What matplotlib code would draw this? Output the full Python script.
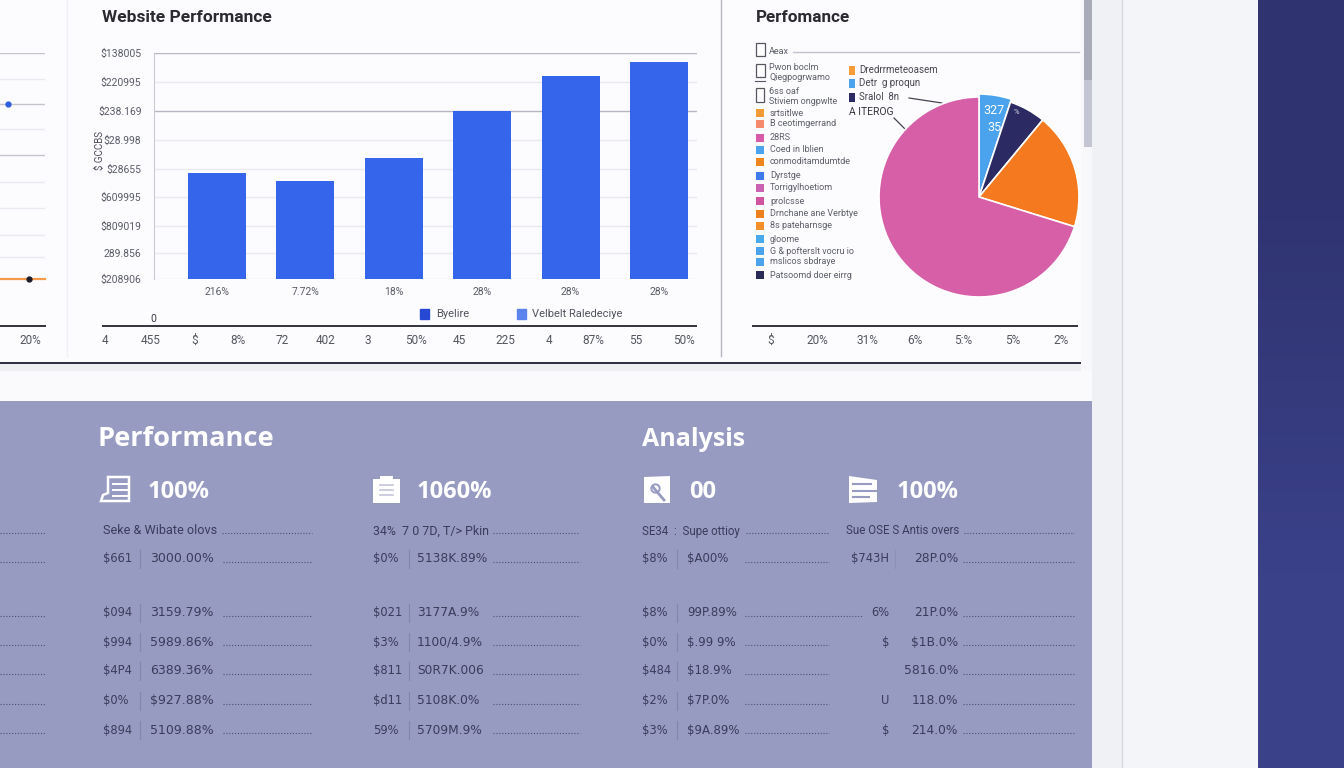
import matplotlib
matplotlib.use("Agg")
import matplotlib.pyplot as plt
from matplotlib.patches import Rectangle, Polygon, Patch

plt.rcParams['font.family'] = ['Roboto', 'DejaVu Sans']

# bar chart
bar_labels = ['216%', '7.72%', '18%', '28%', '28%', '28%']
bar_values = [3.75, 3.47, 4.28, 5.95, 7.19, 7.68]
y_tick_labels = ['$208906', '289.856', '$809019', '$609995', '$28655', '$28.998', '$238.169', '$220995', '$138005']
y_ticks = [0, 0.92, 1.88, 2.90, 3.89, 4.92, 5.95, 6.97, 8]
legend_names = ['Byelire', 'Velbelt Raledeciye']
legend_colors = ['#2748d4', '#5b83ee']
bottom_labels = ['4', '455', '$', '8%', '72', '402', '3', '50%', '45', '225', '4', '87%', '55', '50%']

# cut off line chart on the left
left_grid = [0.78, 1.56, 2.51, 3.43, 4.39, 5.31, 6.19, 7.08, 8]
left_blue_x = [8]
left_blue_y = [6.19]
left_orange_x = [0, 29, 45]
left_orange_y = [0, 0, 0]

# pie chart
pie_values = [5.1, 5.9, 18.8, 70.2]
pie_colors = ['#4aa3ec', '#2c2a63', '#f57a1f', '#d65fa8']
pie_text = '327\n35'
pie_bottom = ['$', '20%', '31%', '6%', '5:%', '5%', '2%']
list_boxed = ['Aeax', 'Pwon boclm', 'Qiegpogrwamo', '6ss oaf', 'Stiviem ongpwlte']
list_names = ['srtsitlwe', 'B ceotimgerrand', '28RS', 'Coed in Iblien', 'conmoditamdumtde', 'Dyrstge',
              'Torrigylhoetiom', 'prolcsse', 'Drnchane ane Verbtye', '8s pateharnsge', 'gloome',
              'G & pofterslt vocru io', 'mslicos sbdraye', 'Patsoomd doer eirrg']
list_colors = ['#f79a38', '#f58a70', '#d55ba8', '#4aa3ec', '#f0861c', '#3b7bea', '#cc62b4', '#d2559f',
               '#f0801c', '#f58f2e', '#4aa8ee', '#4aa3ec', '#4aa3ec', '#2a2a58']
side_names = ['Dredrrmeteoasem', 'Detr  g proqun', 'Sralol  8n']
side_colors = ['#f79a38', '#4aa3ec', '#2c2a63']

# table panel
col1_head = 'Seke & Wibate olovs'
col2_head = '34%  7 0 7D, T/> Pkin'
col3_head = 'SE34  :  Supe ottioy'
col4_head = 'Sue OSE S Antis overs'
col1_a = ['$661', '$094', '$994', '$4P4', '$0%', '$894']
col1_b = ['3000.00%', '3159.79%', '5989.86%', '6389.36%', '$927.88%', '5109.88%']
col2_a = ['$0%', '$021', '$3%', '$811', '$d11', '59%']
col2_b = ['5138K.89%', '3177A.9%', '1100/4.9%', 'S0R7K.006', '5108K.0%', '5709M.9%']
col3_a = ['$8%', '$8%', '$0%', '$484', '$2%', '$3%']
col3_b = ['$A00%', '99P.89%', '$.99 9%', '$18.9%', '$7P.0%', '$9A.89%']
col4_a = ['$743H', '6%', '$', '', 'U', '$']
col4_b = ['28P.0%', '21P.0%', '$1B.0%', '5816.0%', '118.0%', '214.0%']

fig = plt.figure(figsize=(13.44, 7.68), dpi=100, facecolor='#fbfbfe')


def px_axes(x0, y0, x1, y1):
    return fig.add_axes([x0 / 1344, 1 - y1 / 768, (x1 - x0) / 1344, (y1 - y0) / 768])


bg = fig.add_axes([0, 0, 1, 1], zorder=0)
bg.set_xlim(0, 1344)
bg.set_ylim(768, 0)
bg.axis('off')

# page chrome
bg.add_patch(Rectangle((1092, 0), 30, 768, color='#f0f1f5', lw=0))
bg.add_patch(Rectangle((1122, 0), 136, 768, color='#f3f5f8', lw=0))
bg.plot([1122, 1122], [0, 768], color='#d6d8e2', lw=1)
bg.imshow([[0], [1]], extent=(1258, 1344, 768, 0), aspect='auto', cmap=matplotlib.colors.LinearSegmentedColormap.from_list('n', ['#2f3370', '#3b4189']),
          interpolation='bilinear')
bg.set_xlim(0, 1344)
bg.set_ylim(768, 0)
bg.add_patch(Rectangle((0, 0), 1081, 362, color='#fcfcff', lw=0))
bg.add_patch(Rectangle((1081, 0), 11, 401, color='#f8f8fb', lw=0))
bg.add_patch(Rectangle((0, 364), 1081, 7, color='#eeeef3', lw=0))
bg.add_patch(Rectangle((0, 371), 1092, 30, color='#fafafc', lw=0))
bg.plot([0, 1081], [363, 363], color='#2c2c40', lw=1.4, solid_capstyle='butt')
bg.add_patch(Rectangle((1084, 0), 8, 80, color='#a9abb9', lw=0))
bg.add_patch(Rectangle((1084, 80), 8, 67, color='#c3c5d2', lw=0))
bg.plot([67, 67], [0, 356], color='#f0f0f5', lw=1)
bg.plot([721, 721], [0, 356], color='#b5b6c0', lw=1)
bg.add_patch(Rectangle((0, 401), 1092, 367, color='#979bc1', lw=0))

# left cut off chart
left = px_axes(0, 53, 45, 279)
left.patch.set_alpha(0)
left.set_xlim(0, 45)
left.set_ylim(0, 8)
for i, v in enumerate(left_grid):
    dark = i in [4, 6, 8]
    left.axhline(v, color='#c4c5cc' if dark else '#e9eaf0', lw=1)
left.plot(left_orange_x, left_orange_y, color='#f59a4a', lw=1.6, clip_on=False)
left.plot([29], [0], 'o', color='#1c1c28', ms=3.5, clip_on=False)
left.plot(left_blue_x, left_blue_y, 'o', color='#2f5fe0', ms=3.5, clip_on=False)
left.axis('off')

# bar chart
ax = px_axes(154, 53, 697, 279)
ax.patch.set_alpha(0)
xpos = list(range(len(bar_values)))
ax.bar(xpos, bar_values, width=0.656, color='#3565ea', zorder=3)
ax.set_xlim(-0.713, 5.43)
ax.set_ylim(0, 8)
ax.set_yticks(y_ticks)
ax.set_yticklabels(y_tick_labels, fontsize=7.5, color='#5a5c68')
ax.set_xticks(xpos)
ax.set_xticklabels(bar_labels, fontsize=7.5, color='#5a5c68')
ax.tick_params(length=0, pad=9)
ax.tick_params(axis='x', pad=6)
ax.grid(axis='y', color='#e9eaf0', lw=1, zorder=0)
ax.get_ygridlines()[6].set_color('#b6b7c0')
ax.get_ygridlines()[8].set_color('#b6b7c0')
for s in ['top', 'right', 'bottom']:
    ax.spines[s].set_visible(False)
ax.spines['left'].set_color('#c9cad2')
ax.set_ylabel('$ GCCBS', fontsize=7, color='#4a4b58')
ax.yaxis.set_label_coords(-0.09, 0.57)
handles = [Patch(color=c) for c in legend_colors]
ax.legend(handles, legend_names, ncols=2, frameon=False, fontsize=8, labelcolor='#50525e',
          loc='center left', bbox_to_anchor=(0.48, -0.155), handlelength=0.8, handleheight=1.0,
          columnspacing=4.3, handletextpad=0.6, borderpad=0)

# pie chart
pie = px_axes(879, 97, 1079, 297)
wedges, _ = pie.pie(pie_values, colors=pie_colors, startangle=90, counterclock=False, radius=1,
                    wedgeprops={'edgecolor': 'white', 'linewidth': 1.2})
pie.set_xlim(-1, 1)
pie.set_ylim(-1, 1)
for w in wedges:
    w.set_clip_on(False)
wedges[0].set_radius(1.03)
pie.text(0.15, 0.78, pie_text, color='white', fontsize=9, ha='center', va='center', linespacing=1.35)
pie.text(0.37, 0.85, '%', color='#d8d8e8', fontsize=5.5, ha='center', va='center')

# titles
bg.text(102, 17, 'Website Performance', fontsize=12.5, fontweight='bold', color='#2a2a30', va='center')
bg.text(756, 17, 'Perfomance', fontsize=12.3, fontweight='bold', color='#2a2a30', va='center', family='Roboto')
bg.text(97, 439, 'Performance', fontsize=19.6, fontweight='bold', color='white', va='center', family='Open Sans')
bg.text(642, 439, 'Analysis', fontsize=18, fontweight='bold', color='white', va='center', family='Open Sans')

# axes rules under the charts and their labels
rule = '#23232c'
for x0, x1 in [(0, 46), (102, 697), (752, 1078)]:
    bg.plot([x0, x1], [326, 326], color=rule, lw=1.3, solid_capstyle='butt')
bg.text(150, 319, '0', fontsize=7.5, color='#3a3a46', ha='left', va='center')
bottom_x = [105, 151, 195, 238, 282, 326, 368, 416, 459, 505, 549, 593, 636, 684]
for x, t in zip(bottom_x, bottom_labels):
    bg.text(x, 340, t, fontsize=8.5, color='#54565f', ha='center', va='center')
bg.text(30, 340, '20%', fontsize=8.5, color='#54565f', ha='center', va='center')
pie_bottom_x = [771, 817, 867, 915, 963, 1013, 1061]
for x, t in zip(pie_bottom_x, pie_bottom):
    bg.text(x, 340, t, fontsize=8.5, color='#54565f', ha='center', va='center')

# pie legend
boxed_y = [51, 68, 78, 91, 101]
for y, t in zip(boxed_y, list_boxed):
    bg.text(769, y, t, fontsize=6.5, color='#5d5f69', va='center')
bg.plot([793, 1079], [52, 52], color='#c2c3cb', lw=1)
bg.add_patch(Rectangle((756, 43), 9, 13, fc='white', ec='#55565f', lw=0.9))
bg.add_patch(Rectangle((756, 64), 9, 13, fc='white', ec='#55565f', lw=0.9))
bg.add_patch(Rectangle((756, 88), 8, 14, fc='white', ec='#55565f', lw=0.9))
bg.plot([755, 765], [81, 81], color='#55565f', lw=0.8)
list_y = [113, 124, 138, 150, 162, 176, 188, 201, 214, 226, 239, 251, 262, 275]
for y, t, c in zip(list_y, list_names, list_colors):
    bg.add_patch(Rectangle((756, y - 4), 8, 8, color=c, lw=0))
    bg.text(770, y, t, fontsize=6.5, color='#5d5f69', va='center')
side_y = [70, 83, 97]
for y, t, c in zip(side_y, side_names, side_colors):
    bg.add_patch(Rectangle((849, y - 4.5), 6, 9, color=c, lw=0))
    bg.text(859, y, t, fontsize=7, color='#46474f', va='center')
bg.text(849, 112, 'A ITEROG', fontsize=7.5, color='#34343c', va='center')
bg.plot([909, 942], [98, 103], color='#44454d', lw=0.9)
bg.plot([894, 907], [118, 131], color='#44454d', lw=0.9)

# table panel
icon_text = [(148, '100%'), (417, '1060%'), (689, '00'), (897, '100%')]
for x, t in icon_text:
    bg.text(x, 492, t, fontsize=17, fontweight='bold', color='white', va='center', family='Open Sans')

# icons
bg.add_patch(Polygon([(108, 477), (129, 477), (129, 501), (101, 501), (103, 495), (108, 493)], fc='none', ec='white', lw=1.8))
for y in [484, 490, 496]:
    bg.plot([113, 127], [y, y], color='white', lw=1.4)
bg.add_patch(Rectangle((373, 479), 27, 24, color='white', lw=0))
bg.add_patch(Rectangle((380, 476), 13, 4, color='white', lw=0))
for y in [485, 490, 495]:
    bg.plot([380, 393], [y, y], color='#c3c5dc', lw=1.2)
bg.add_patch(Polygon([(644, 477), (670, 476), (670, 503), (644, 503)], color='white', lw=0))
bg.plot([653, 664], [487, 500], color='#979bc1', lw=2)
bg.plot([655], [488], 'o', ms=6, mfc='none', mec='#979bc1', mew=1.4)
bg.add_patch(Polygon([(849, 476), (877, 480), (877, 502), (849, 503)], color='white', lw=0))
for y, x1 in [(484, 871), (491, 877), (497, 869)]:
    bg.plot([853, x1], [y, y], color='#979bc1', lw=1.5)

text_c = '#3a3c5c'
dot_c = '#4e5176'
row_y = [559, 613, 642, 671, 701, 730]
dj = 'DejaVu Sans'


def dots(x0, x1, y):
    bg.plot([x0, x1], [y, y], color=dot_c, lw=0.8, ls=(0, (1, 1.6)))


bg.text(103, 531, col1_head, fontsize=9.1, color=text_c, va='center')
bg.text(373, 531, col2_head, fontsize=8.9, color=text_c, va='center')
bg.text(642, 531, col3_head, fontsize=8.3, color=text_c, va='center')
bg.text(846, 531, col4_head, fontsize=8.3, color=text_c, va='center')
for x0, x1 in [(0, 46), (222, 312), (493, 579), (746, 829), (964, 1074)]:
    dots(x0, x1, 533)
for i, y in enumerate(row_y):
    h = 9
    bg.plot([140, 140], [y - h, y + h], color='#8286ad', lw=0.8)
    bg.plot([409, 409], [y - h, y + h], color='#8286ad', lw=0.8)
    bg.plot([677, 677], [y - h, y + h], color='#8286ad', lw=0.8)
    if i == 0:
        bg.plot([895, 895], [y - h, y + h], color='#8c90b5', lw=0.8)
    bg.text(103, y, col1_a[i], fontsize=8.3, color=text_c, va='center', family=dj)
    bg.text(150, y, col1_b[i], fontsize=9, color=text_c, va='center', family=dj)
    bg.text(373, y, col2_a[i], fontsize=8.3, color=text_c, va='center', family=dj)
    bg.text(417, y, col2_b[i], fontsize=8.8, color=text_c, va='center', family=dj)
    bg.text(642, y, col3_a[i], fontsize=8.3, color=text_c, va='center', family=dj)
    bg.text(687, y, col3_b[i], fontsize=8.5, color=text_c, va='center', family=dj)
    bg.text(889, y, col4_a[i], fontsize=8.3, color=text_c, va='center', ha='right', family=dj)
    bg.text(958, y, col4_b[i], fontsize=8.8, color=text_c, va='center', ha='right', family=dj)
    dots(0, 46, y + 3)
    dots(223, 312, y + 3)
    dots(493, 580, y + 3)
    dots(745, 862 if i == 1 else 829, y + 3)
    dots(963, 1074, y + 3)

fig.savefig('out.png', dpi=100, facecolor=fig.get_facecolor())
